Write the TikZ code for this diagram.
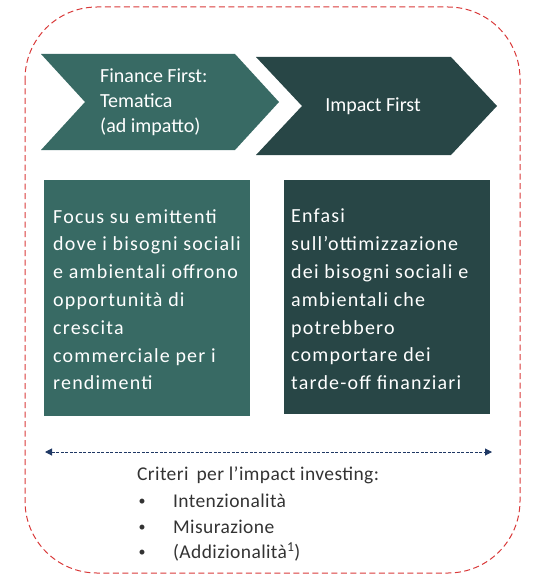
\documentclass[tikz,border=0pt]{standalone}
\usepackage{fontspec}
\setmainfont{Carlito}
\newfontfamily\spacedfont[LetterSpace=6]{Carlito}
\newfontfamily\critfont[LetterSpace=2]{Carlito}
\usetikzlibrary{arrows.meta}
\definecolor{tealA}{HTML}{386A64}
\definecolor{tealB}{HTML}{284646}
\definecolor{dashred}{HTML}{D93A3A}
\definecolor{arrblue}{HTML}{1F3864}
\definecolor{txtgray}{HTML}{333333}
\tikzset{
  chevA/.style={fill=tealA,draw=none},
  chevB/.style={fill=tealB,draw=none},
  boxtxt/.style={text=white,align=left,anchor=north west,inner sep=0pt,font=\spacedfont\fontsize{20}{27.8}\selectfont},
  chevtxt/.style={text=white,align=left,inner sep=0pt,font=\fontsize{20}{25}\selectfont},
  crit/.style={text=txtgray,anchor=west,inner sep=0pt,font=\critfont\fontsize{19.5}{22}\selectfont},
  bul/.style={text=txtgray,inner sep=0pt,font=\fontsize{14}{16}\selectfont}
}
\begin{document}
\begin{tikzpicture}[x=1pt,y=-1pt]
\useasboundingbox (0,0) rectangle (557,575);
% outer dashed frame
\draw[dashred,line width=1pt,dash pattern=on 6pt off 3.5pt,rounded corners=72pt] (25,7) rectangle (520,573);
% chevrons
\path[chevA] (41,54) -- (235,54) -- (279,102) -- (235,150) -- (41,150) -- (85,102) -- cycle;
\path[chevB] (256,57) -- (451,57) -- (497,106) -- (451,155) -- (256,155) -- (302,106) -- cycle;
\node[chevtxt,anchor=west] (c1) at (100,102) {Finance First:\\Tematica\\(ad impatto)};
\node[chevtxt] (c2) at (373,106) {Impact First};
% boxes
\fill[tealA] (44,180) rectangle (250,416);
\fill[tealB] (284,180) rectangle (490,414);
\node[boxtxt] (b1) at (53,209) {Focus su emittenti\\dove i bisogni sociali\\e ambientali offrono\\opportunità di\\crescita\\commerciale per i\\rendimenti};
\node[boxtxt] (b2) at (291,209) {Enfasi\\sull’ottimizzazione\\dei bisogni sociali e\\ambientali che\\potrebbero\\comportare dei\\tarde-off finanziari};
% arrow
\coordinate (aL) at (45,452);
\coordinate (aR) at (492,452);
\draw[arrblue,line width=1pt,dash pattern=on 3pt off 1.5pt,{Triangle[length=7pt,width=7pt]}-{Triangle[length=7pt,width=7pt]}] (aL) -- (aR);
% criteria
\node[crit] (t0) at (137,475) {Criteri\, per l’impact investing:};
\node[bul] (d1) at (142,502) {•};
\node[bul] (d2) at (142,528) {•};
\node[bul] (d3) at (142,553) {•};
\node[crit] (t1) at (173,501) {Intenzionalità};
\node[crit] (t2) at (173,527) {Misurazione};
\node[crit] (t3) at (173,552) {(Addizionalità\textsuperscript{1})};
\end{tikzpicture}
\end{document}
